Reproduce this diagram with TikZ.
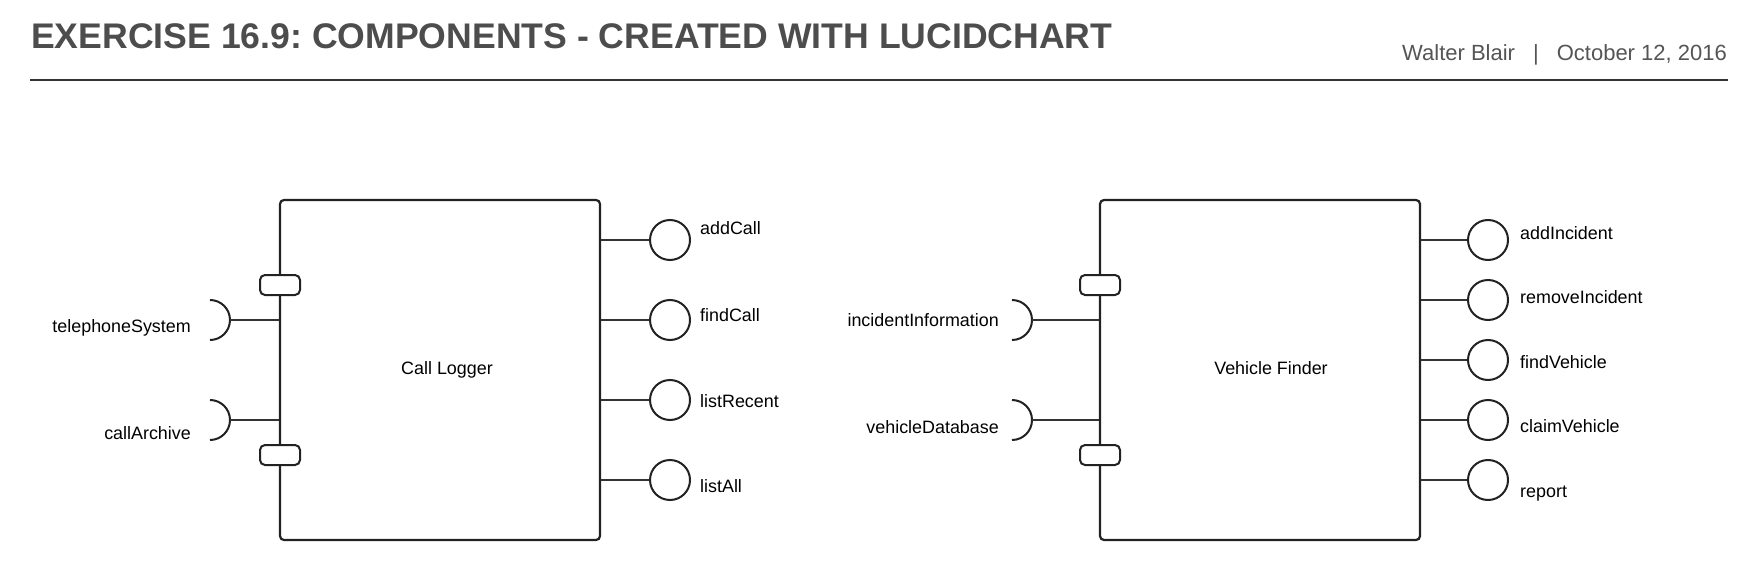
\documentclass[tikz,border=0pt]{standalone}
\usepackage{fontspec}
\setmainfont{Liberation Sans}
\frenchspacing
\definecolor{titlegray}{HTML}{4D4D4D}
\definecolor{authgray}{HTML}{555555}
\definecolor{linegray}{HTML}{333333}
\definecolor{boxline}{HTML}{222222}
\tikzset{
  comp/.style={draw=boxline, line width=2.2pt, rounded corners=4pt, minimum width=320pt, minimum height=340pt, inner sep=0pt},
  port/.style={draw=boxline, fill=white, line width=2pt, rounded corners=5pt, minimum width=40pt, minimum height=20pt, inner sep=0pt},
  lolli/.style={draw=boxline, circle, line width=2pt, minimum size=40pt, inner sep=0pt},
  conn/.style={draw=linegray, line width=2pt},
  sock/.style={draw=boxline, line width=2pt},
  lbl/.style={inner sep=0pt, font=\fontsize{17.9}{20}\selectfont, text=black},
}
\begin{document}
\begin{tikzpicture}[x=1pt,y=-1pt]
\useasboundingbox[fill=white] (0,0) rectangle (1760,580);
% header
\node[anchor=base west, inner sep=0pt, text=titlegray, font=\fontsize{35.6}{40}\selectfont\bfseries] (title) at (31,49) {EXERCISE 16.9: COMPONENTS - CREATED WITH LUCIDCHART};
\node[anchor=base east, inner sep=0pt, text=authgray, font=\fontsize{22}{26}\selectfont] (author) at (1727,61) {Walter Blair\hspace{18pt}|\hspace{18pt}October 12, 2016};
\coordinate (ruleL) at (30,80);
\coordinate (ruleR) at (1728,80);
\draw[draw=linegray, line width=2pt] (ruleL) -- (ruleR);

% ---------- Call Logger ----------
\node[comp] (cl) at (440,370) {};
\node[lbl, anchor=base] (cltext) at (447,374) {Call Logger};
\node[port] (clp1) at (280,285) {};
\node[port] (clp2) at (280,455) {};
% required sockets
\coordinate (clsA) at (230,320);
\coordinate (clsB) at (230,420);
\draw[sock] ([shift={(-20pt,20pt)}]clsA) arc[start angle=90, end angle=-90, radius=20pt];
\draw[sock] ([shift={(-20pt,20pt)}]clsB) arc[start angle=90, end angle=-90, radius=20pt];
\draw[conn] (clsA) -- (cl.west |- clsA);
\draw[conn] (clsB) -- (cl.west |- clsB);
\node[lbl, anchor=base east] (telsys) at (191,332) {telephoneSystem};
\node[lbl, anchor=base east] (callarch) at (191,439) {callArchive};
% provided interfaces
\node[lolli] (addcall) at (670,240) {};
\node[lolli] (findcall) at (670,320) {};
\node[lolli] (listrecent) at (670,400) {};
\node[lolli] (listall) at (670,480) {};
\foreach \n in {addcall,findcall,listrecent,listall}
  \draw[conn] (cl.east |- \n) -- (\n.west);
\node[lbl, anchor=base west] (laddcall) at (700,234) {addCall};
\node[lbl, anchor=base west] (lfindcall) at (700,321) {findCall};
\node[lbl, anchor=base west] (llistrecent) at (700,407) {listRecent};
\node[lbl, anchor=base west] (llistall) at (700,492) {listAll};

% ---------- Vehicle Finder ----------
\node[comp] (vf) at (1260,370) {};
\node[lbl, anchor=base] (vftext) at (1271,374) {Vehicle Finder};
\node[port] (vfp1) at (1100,285) {};
\node[port] (vfp2) at (1100,455) {};
\coordinate (vfsA) at (1032,320);
\coordinate (vfsB) at (1032,420);
\draw[sock] ([shift={(-20pt,20pt)}]vfsA) arc[start angle=90, end angle=-90, radius=20pt];
\draw[sock] ([shift={(-20pt,20pt)}]vfsB) arc[start angle=90, end angle=-90, radius=20pt];
\draw[conn] (vfsA) -- (vf.west |- vfsA);
\draw[conn] (vfsB) -- (vf.west |- vfsB);
\node[lbl, anchor=base east] (incinfo) at (999,326) {incidentInformation};
\node[lbl, anchor=base east] (vehdb) at (999,433) {vehicleDatabase};
\node[lolli] (addinc) at (1488,240) {};
\node[lolli] (reminc) at (1488,300) {};
\node[lolli] (findveh) at (1488,360) {};
\node[lolli] (claimveh) at (1488,420) {};
\node[lolli] (report) at (1488,480) {};
\foreach \n in {addinc,reminc,findveh,claimveh,report}
  \draw[conn] (vf.east |- \n) -- (\n.west);
\node[lbl, anchor=base west] (laddinc) at (1520,239) {addIncident};
\node[lbl, anchor=base west] (lreminc) at (1520,303) {removeIncident};
\node[lbl, anchor=base west] (lfindveh) at (1520,368) {findVehicle};
\node[lbl, anchor=base west] (lclaimveh) at (1520,432) {claimVehicle};
\node[lbl, anchor=base west] (lreport) at (1520,497) {report};
\end{tikzpicture}
\end{document}
